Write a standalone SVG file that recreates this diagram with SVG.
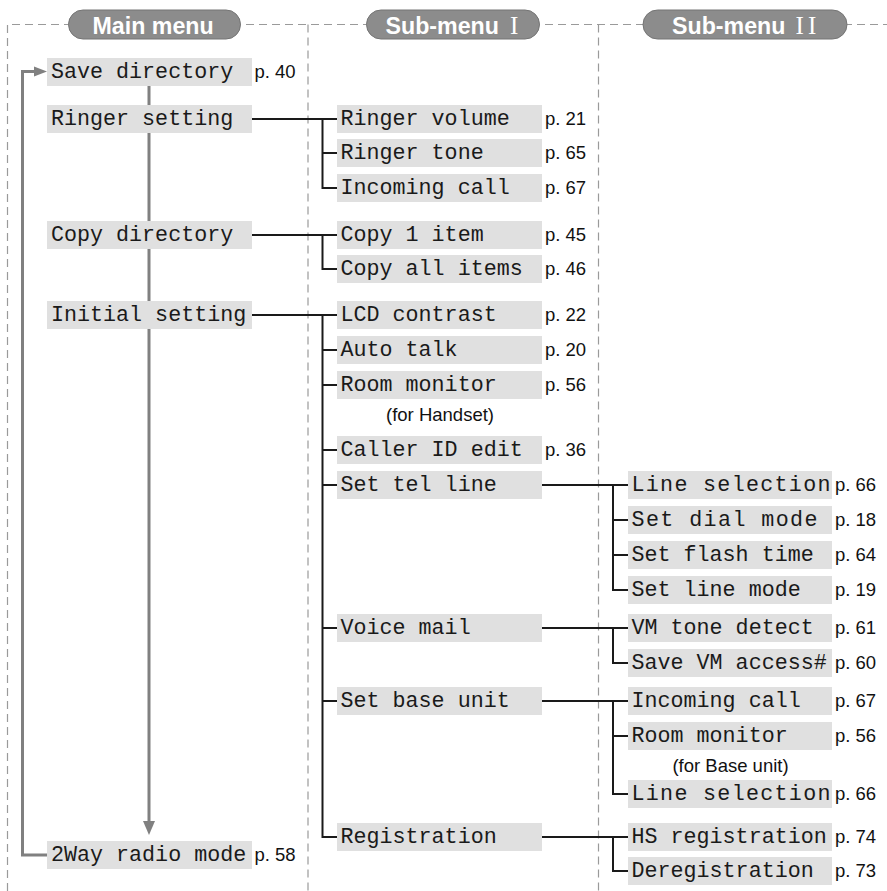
<svg xmlns="http://www.w3.org/2000/svg" width="887" height="891" viewBox="0 0 887 891">
<style>
.bg{fill:#ffffff}
.box{fill:#e0e0e0}
.t{font-family:"Liberation Mono","Courier New",monospace;font-size:21.7px;fill:#1a1a1a}
.p{font-family:"Liberation Sans",Arial,sans-serif;font-size:18.5px;fill:#111}
.n{font-family:"Liberation Sans",Arial,sans-serif;font-size:18.5px;fill:#111;text-anchor:middle}
.c{stroke:#1a1a1a;stroke-width:2;fill:none}
.g{stroke:#808080;stroke-width:3;fill:none}
.ga{fill:#808080}
.d{stroke:#9a9a9a;stroke-width:1.2;stroke-dasharray:8 5;fill:none}
.pill{fill:#8c8c8c;stroke:#747474;stroke-width:1}
.h{font-family:"Liberation Sans",Arial,sans-serif;font-weight:bold;font-size:23.2px;fill:#ffffff}
.rn{font-family:"Liberation Serif","Times New Roman",serif;font-weight:normal;font-size:25px}
</style>
<rect class="bg" x="0" y="0" width="887" height="891"/>
<g id="frame">
<path class="d" d="M7.5 891V24.5H887"/>
<path class="d" d="M308 24.5V891"/>
<path class="d" d="M598.5 24.5V891"/>
</g>
<g id="headers">
<g id="h-main"><rect class="pill" x="68.5" y="10" width="172" height="29" rx="14.5"/><text class="h" x="92.5" y="33.5">Main menu</text></g>
<g id="h-sub1"><rect class="pill" x="366.5" y="10" width="173" height="29" rx="14.5"/><text class="h" x="385.5" y="33.5">Sub-menu<tspan class="rn" dx="5"> I</tspan></text></g>
<g id="h-sub2"><rect class="pill" x="643" y="10" width="204" height="29" rx="14.5"/><text class="h" x="672" y="33.5">Sub-menu<tspan class="rn" dx="4"> I</tspan><tspan class="rn" dx="4">I</tspan></text></g>
</g>
<g id="connectors">
<path class="g" d="M47 855H22.5V71.5H36"/>
<polygon class="ga" points="34,66.5 47,71.5 34,76.5"/>
<path class="g" d="M149 86V822"/>
<polygon class="ga" points="143,821 155,821 149,835"/>
<path class="c" d="M252 119H337M322.5 119V188H337M322.5 153H337"/>
<path class="c" d="M252 235H337M322.5 235V269H337"/>
<path class="c" d="M252 315H337M322.5 315V837H337M322.5 350H337M322.5 385H337M322.5 450H337M322.5 485H337M322.5 628H337M322.5 701H337"/>
<path class="c" d="M542 485H628M613 485V590H628M613 520H628M613 555H628"/>
<path class="c" d="M542 628H628M613 628V663H628"/>
<path class="c" d="M542 701H628M613 701V794H628M613 736H628"/>
<path class="c" d="M542 837H628M613 837V871H628"/>
</g>
<g id="main-save"><rect class="box" x="47" y="58" width="205" height="28"/><text class="t" x="51" y="77.5">Save directory</text><text class="p" x="254.5" y="77.5">p. 40</text></g>
<g id="main-ringer"><rect class="box" x="47" y="105" width="205" height="28"/><text class="t" x="51" y="124.5">Ringer setting</text></g>
<g id="main-copy"><rect class="box" x="47" y="221" width="205" height="28"/><text class="t" x="51" y="240.5">Copy directory</text></g>
<g id="main-initial"><rect class="box" x="47" y="301" width="205" height="28"/><text class="t" x="51" y="320.5">Initial setting</text></g>
<g id="main-radio"><rect class="box" x="47" y="841" width="205" height="28"/><text class="t" x="51" y="860.5">2Way radio mode</text><text class="p" x="254.5" y="860.5">p. 58</text></g>
<g id="s1-ringer-volume"><rect class="box" x="337" y="105" width="205" height="28"/><text class="t" x="340.5" y="124.5">Ringer volume</text><text class="p" x="545" y="124.5">p. 21</text></g>
<g id="s1-ringer-tone"><rect class="box" x="337" y="139" width="205" height="28"/><text class="t" x="340.5" y="158.5">Ringer tone</text><text class="p" x="545" y="158.5">p. 65</text></g>
<g id="s1-incoming"><rect class="box" x="337" y="174" width="205" height="28"/><text class="t" x="340.5" y="193.5">Incoming call</text><text class="p" x="545" y="193.5">p. 67</text></g>
<g id="s1-copy1"><rect class="box" x="337" y="221" width="205" height="28"/><text class="t" x="340.5" y="240.5">Copy 1 item</text><text class="p" x="545" y="240.5">p. 45</text></g>
<g id="s1-copyall"><rect class="box" x="337" y="255" width="205" height="28"/><text class="t" x="340.5" y="274.5">Copy all items</text><text class="p" x="545" y="274.5">p. 46</text></g>
<g id="s1-lcd"><rect class="box" x="337" y="301" width="205" height="28"/><text class="t" x="340.5" y="320.5">LCD contrast</text><text class="p" x="545" y="320.5">p. 22</text></g>
<g id="s1-autotalk"><rect class="box" x="337" y="336" width="205" height="28"/><text class="t" x="340.5" y="355.5">Auto talk</text><text class="p" x="545" y="355.5">p. 20</text></g>
<g id="s1-roommon"><rect class="box" x="337" y="371" width="205" height="28"/><text class="t" x="340.5" y="390.5">Room monitor</text><text class="p" x="545" y="390.5">p. 56</text><text class="n" x="440" y="421">(for Handset)</text></g>
<g id="s1-callerid"><rect class="box" x="337" y="436" width="205" height="28"/><text class="t" x="340.5" y="455.5">Caller ID edit</text><text class="p" x="545" y="455.5">p. 36</text></g>
<g id="s1-settel"><rect class="box" x="337" y="471" width="205" height="28"/><text class="t" x="340.5" y="490.5">Set tel line</text></g>
<g id="s1-voicemail"><rect class="box" x="337" y="614" width="205" height="28"/><text class="t" x="340.5" y="633.5">Voice mail</text></g>
<g id="s1-setbase"><rect class="box" x="337" y="687" width="205" height="28"/><text class="t" x="340.5" y="706.5">Set base unit</text></g>
<g id="s1-registration"><rect class="box" x="337" y="823" width="205" height="28"/><text class="t" x="340.5" y="842.5">Registration</text></g>
<g id="s2-linesel1"><rect class="box" x="628" y="471" width="204" height="28"/><text class="t" x="631.5" y="490.5" textLength="199" lengthAdjust="spacing">Line selection</text><text class="p" x="835" y="490.5">p. 66</text></g>
<g id="s2-dialmode"><rect class="box" x="628" y="506" width="204" height="28"/><text class="t" x="631.5" y="525.5" textLength="186" lengthAdjust="spacing">Set dial mode</text><text class="p" x="835" y="525.5">p. 18</text></g>
<g id="s2-flash"><rect class="box" x="628" y="541" width="204" height="28"/><text class="t" x="631.5" y="560.5">Set flash time</text><text class="p" x="835" y="560.5">p. 64</text></g>
<g id="s2-linemode"><rect class="box" x="628" y="576" width="204" height="28"/><text class="t" x="631.5" y="595.5">Set line mode</text><text class="p" x="835" y="595.5">p. 19</text></g>
<g id="s2-vmtone"><rect class="box" x="628" y="614" width="204" height="28"/><text class="t" x="631.5" y="633.5">VM tone detect</text><text class="p" x="835" y="633.5">p. 61</text></g>
<g id="s2-vmaccess"><rect class="box" x="628" y="649" width="204" height="28"/><text class="t" x="631.5" y="668.5">Save VM access#</text><text class="p" x="835" y="668.5">p. 60</text></g>
<g id="s2-incoming"><rect class="box" x="628" y="687" width="204" height="28"/><text class="t" x="631.5" y="706.5">Incoming call</text><text class="p" x="835" y="706.5">p. 67</text></g>
<g id="s2-roommon"><rect class="box" x="628" y="722" width="204" height="28"/><text class="t" x="631.5" y="741.5">Room monitor</text><text class="p" x="835" y="741.5">p. 56</text><text class="n" x="730.5" y="772">(for Base unit)</text></g>
<g id="s2-linesel2"><rect class="box" x="628" y="780" width="204" height="28"/><text class="t" x="631.5" y="799.5" textLength="199" lengthAdjust="spacing">Line selection</text><text class="p" x="835" y="799.5">p. 66</text></g>
<g id="s2-hsreg"><rect class="box" x="628" y="823" width="204" height="28"/><text class="t" x="631.5" y="842.5">HS registration</text><text class="p" x="835" y="842.5">p. 74</text></g>
<g id="s2-dereg"><rect class="box" x="628" y="857" width="204" height="28"/><text class="t" x="631.5" y="876.5">Deregistration</text><text class="p" x="835" y="876.5">p. 73</text></g>
</svg>
